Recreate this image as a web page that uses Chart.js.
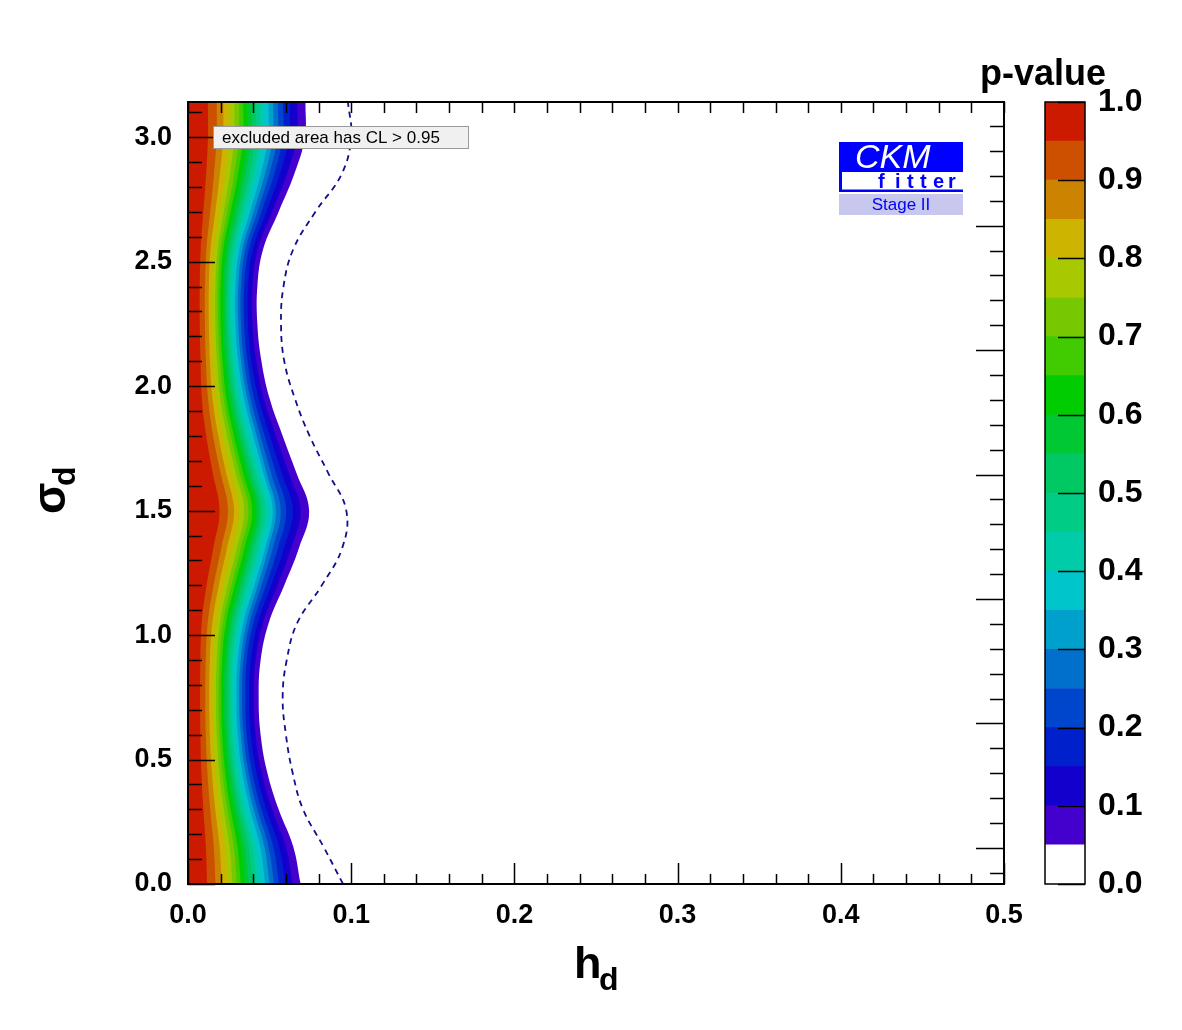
<!DOCTYPE html>
<html>
<head>
<meta charset="utf-8">
<script src="https://cdn.jsdelivr.net/npm/chart.js@4.4.1/dist/chart.umd.min.js"></script>
<style>
  body { margin: 0; background: #fff; }
  #wrap { position: relative; width: 1182px; height: 1030px; }
  #main { position: absolute; left: 0; top: 0; }
  #cbar { position: absolute; left: 960px; top: 0; }
</style>
</head>
<body>
<div id="wrap">
  <canvas id="main" width="1182" height="1030"></canvas>
  <canvas id="cbar" width="222" height="1030"></canvas>
</div>
<script>
const sigmaRows = [0, 0.15, 0.3, 0.45, 0.6, 0.75, 0.9, 1.05, 1.2, 1.35, 1.5, 1.65, 1.8, 1.95, 2.1, 2.25, 2.4, 2.55, 2.7, 2.85, 3.0, 3.1416];

// h_d position of each p-value contour at those rows
const hP05 = [0.0690, 0.0645, 0.0555, 0.0485, 0.0445, 0.0433, 0.0445, 0.0495, 0.0590, 0.0680, 0.0742, 0.0665, 0.0580, 0.0500, 0.0450, 0.0425, 0.0425, 0.0460, 0.0555, 0.0650, 0.0716, 0.0720];
const hP10 = [0.0642, 0.0600, 0.0516, 0.0451, 0.0414, 0.0403, 0.0414, 0.0460, 0.0549, 0.0632, 0.0690, 0.0618, 0.0539, 0.0465, 0.0419, 0.0395, 0.0395, 0.0428, 0.0516, 0.0605, 0.0666, 0.0670];
const hP15 = [0.0597, 0.0558, 0.0480, 0.0420, 0.0385, 0.0375, 0.0385, 0.0428, 0.0510, 0.0588, 0.0642, 0.0575, 0.0502, 0.0433, 0.0389, 0.0368, 0.0368, 0.0398, 0.0480, 0.0562, 0.0619, 0.0623];
const hP20 = [0.0559, 0.0522, 0.0450, 0.0393, 0.0360, 0.0351, 0.0360, 0.0401, 0.0478, 0.0551, 0.0601, 0.0539, 0.0470, 0.0405, 0.0365, 0.0344, 0.0344, 0.0373, 0.0450, 0.0527, 0.0580, 0.0583];
const hP25 = [0.0528, 0.0493, 0.0425, 0.0371, 0.0340, 0.0331, 0.0340, 0.0379, 0.0451, 0.0520, 0.0568, 0.0509, 0.0444, 0.0383, 0.0344, 0.0325, 0.0325, 0.0352, 0.0425, 0.0497, 0.0548, 0.0551];
const hP30 = [0.0500, 0.0468, 0.0402, 0.0352, 0.0323, 0.0314, 0.0323, 0.0359, 0.0428, 0.0493, 0.0538, 0.0482, 0.0421, 0.0363, 0.0326, 0.0308, 0.0308, 0.0334, 0.0402, 0.0471, 0.0519, 0.0522];
const hP35 = [0.0473, 0.0442, 0.0380, 0.0332, 0.0305, 0.0297, 0.0305, 0.0339, 0.0407, 0.0473, 0.0519, 0.0462, 0.0400, 0.0343, 0.0308, 0.0291, 0.0291, 0.0315, 0.0380, 0.0445, 0.0490, 0.0493];
const hP40 = [0.0445, 0.0416, 0.0358, 0.0313, 0.0287, 0.0279, 0.0287, 0.0319, 0.0384, 0.0449, 0.0497, 0.0440, 0.0378, 0.0323, 0.0290, 0.0274, 0.0274, 0.0297, 0.0358, 0.0419, 0.0462, 0.0464];
const hP45 = [0.0421, 0.0393, 0.0339, 0.0296, 0.0271, 0.0264, 0.0271, 0.0302, 0.0364, 0.0428, 0.0475, 0.0419, 0.0358, 0.0305, 0.0275, 0.0259, 0.0259, 0.0281, 0.0339, 0.0397, 0.0437, 0.0439];
const hP50 = [0.0397, 0.0371, 0.0319, 0.0279, 0.0256, 0.0249, 0.0256, 0.0285, 0.0345, 0.0407, 0.0453, 0.0398, 0.0339, 0.0288, 0.0259, 0.0244, 0.0244, 0.0265, 0.0319, 0.0374, 0.0412, 0.0414];
const hP55 = [0.0373, 0.0348, 0.0300, 0.0262, 0.0240, 0.0234, 0.0240, 0.0267, 0.0325, 0.0387, 0.0434, 0.0378, 0.0320, 0.0270, 0.0243, 0.0230, 0.0230, 0.0248, 0.0300, 0.0351, 0.0387, 0.0389];
const hP60 = [0.0348, 0.0326, 0.0280, 0.0245, 0.0225, 0.0219, 0.0225, 0.0250, 0.0306, 0.0368, 0.0416, 0.0360, 0.0301, 0.0253, 0.0227, 0.0215, 0.0215, 0.0232, 0.0280, 0.0328, 0.0362, 0.0364];
const hP65 = [0.0324, 0.0303, 0.0261, 0.0228, 0.0209, 0.0204, 0.0209, 0.0233, 0.0286, 0.0346, 0.0393, 0.0338, 0.0281, 0.0235, 0.0212, 0.0200, 0.0200, 0.0216, 0.0261, 0.0306, 0.0337, 0.0338];
const hP70 = [0.0300, 0.0281, 0.0241, 0.0211, 0.0194, 0.0188, 0.0194, 0.0215, 0.0266, 0.0324, 0.0371, 0.0317, 0.0262, 0.0218, 0.0196, 0.0185, 0.0185, 0.0200, 0.0241, 0.0283, 0.0311, 0.0313];
const hP75 = [0.0273, 0.0255, 0.0219, 0.0192, 0.0176, 0.0171, 0.0176, 0.0196, 0.0243, 0.0300, 0.0345, 0.0293, 0.0239, 0.0198, 0.0178, 0.0168, 0.0168, 0.0182, 0.0219, 0.0257, 0.0283, 0.0284];
const hP80 = [0.0242, 0.0226, 0.0194, 0.0170, 0.0156, 0.0152, 0.0156, 0.0173, 0.0218, 0.0271, 0.0315, 0.0265, 0.0214, 0.0175, 0.0158, 0.0149, 0.0149, 0.0161, 0.0194, 0.0228, 0.0251, 0.0252];
const hP85 = [0.0207, 0.0194, 0.0167, 0.0146, 0.0134, 0.0130, 0.0134, 0.0149, 0.0189, 0.0239, 0.0282, 0.0234, 0.0186, 0.0150, 0.0135, 0.0128, 0.0128, 0.0138, 0.0167, 0.0195, 0.0215, 0.0216];
const hP90 = [0.0169, 0.0158, 0.0136, 0.0119, 0.0109, 0.0106, 0.0109, 0.0121, 0.0157, 0.0204, 0.0245, 0.0200, 0.0154, 0.0123, 0.0110, 0.0104, 0.0104, 0.0113, 0.0136, 0.0159, 0.0175, 0.0176];
const hP95 = [0.0117, 0.0110, 0.0094, 0.0082, 0.0076, 0.0074, 0.0076, 0.0084, 0.0114, 0.0155, 0.0193, 0.0152, 0.0112, 0.0085, 0.0077, 0.0072, 0.0072, 0.0078, 0.0094, 0.0111, 0.0122, 0.0122];

// dashed contour
const hDashed = [0.095, 0.083, 0.0705, 0.064, 0.060, 0.058, 0.0605, 0.067, 0.082, 0.0945, 0.097, 0.086, 0.0745, 0.0655, 0.059, 0.057, 0.0585, 0.0645, 0.078, 0.094, 0.100, 0.098];

const pLevels = [0.05, 0.10, 0.15, 0.20, 0.25, 0.30, 0.35, 0.40, 0.45, 0.50, 0.55, 0.60, 0.65, 0.70, 0.75, 0.80, 0.85, 0.90, 0.95];
const levelColors = ['#4400cc', '#1400cc', '#0020cc', '#0046cc', '#0070cc', '#00a0cc', '#00c6cc', '#00ccaa', '#00cc86', '#00c862', '#00c832', '#00cc00', '#40cc00', '#77c800', '#a8c800', '#ccb400', '#cc8400', '#cc5000', '#cc1a00'];

const xTicks = [0, 0.1, 0.2, 0.3, 0.4, 0.5];
const yTicks = [0, 0.5, 1.0, 1.5, 2.0, 2.5, 3.0];
const cbarTicks = [0, 0.1, 0.2, 0.3, 0.4, 0.5, 0.6, 0.7, 0.8, 0.9, 1.0];

const contourH = [hP05, hP10, hP15, hP20, hP25, hP30, hP35, hP40, hP45, hP50,
  hP55, hP60, hP65, hP70, hP75, hP80, hP85, hP90, hP95];

Chart.defaults.font.family = "'Liberation Sans', Arial, sans-serif";
Chart.defaults.color = '#000';
Chart.defaults.animation = false;

const bold = (size) => ({ family: "'Liberation Sans', Arial, sans-serif", size, weight: 'bold' });

// dashed line first, then filled regions from the highest level down
// (the filler paints the last dataset first)
const mainDatasets = [{
  data: sigmaRows.map((s, i) => ({ x: hDashed[i], y: s })),
  borderColor: '#10108c',
  borderWidth: 1.8,
  borderDash: [6, 5],
  fill: false,
  pointRadius: 0,
  tension: 0.4
}];
for (let k = pLevels.length - 1; k >= 0; k--) {
  mainDatasets.push({
    label: 'p > ' + pLevels[k].toFixed(2),
    data: sigmaRows.map((s, i) => ({ x: contourH[k][i], y: s })),
    backgroundColor: levelColors[k],
    borderWidth: 0,
    fill: 'origin',
    pointRadius: 0,
    tension: 0.4
  });
}

// ROOT style frame: ticks drawn inwards on all four sides, plus labels
const frameDecor = {
  id: 'frameDecor',
  afterDraw(chart) {
    const { ctx, chartArea: a, scales: { x, y } } = chart;
    ctx.save();
    ctx.strokeStyle = '#000';
    ctx.lineWidth = 1.5;
    ctx.beginPath();
    for (let i = 0; i <= 25; i++) {
      const px = Math.round(x.getPixelForValue(i * 0.02)) + 0.5;
      ctx.moveTo(px, a.bottom);
      ctx.lineTo(px, a.bottom - (i % 5 === 0 ? 21 : 10));
      ctx.moveTo(px, a.top);
      ctx.lineTo(px, a.top + 11);
    }
    for (let i = 0; i <= 31; i++) {
      const py = Math.round(y.getPixelForValue(i * 0.1)) + 0.5;
      ctx.moveTo(a.left, py);
      ctx.lineTo(a.left + (i % 5 === 0 ? 27 : 14), py);
    }
    // the right axis is shifted against the left one
    for (let i = 0; i <= 30; i++) {
      const py = Math.round(y.getPixelForValue(0.045 + i * 0.1)) + 0.5;
      ctx.moveTo(a.right, py);
      ctx.lineTo(a.right - (i % 5 === 1 ? 28 : 14), py);
    }
    ctx.stroke();
    ctx.lineWidth = 2;
    ctx.strokeRect(a.left, a.top, a.right - a.left, a.bottom - a.top);

    // axis titles
    ctx.fillStyle = '#000';
    ctx.textBaseline = 'alphabetic';
    ctx.textAlign = 'left';
    ctx.font = "bold 45px 'Liberation Sans', Arial, sans-serif";
    ctx.fillText('h', 574, 978);
    ctx.font = "bold 32px 'Liberation Sans', Arial, sans-serif";
    ctx.fillText('d', 599, 990);

    ctx.save();
    ctx.translate(65, 514);
    ctx.rotate(-Math.PI / 2);
    ctx.font = "bold 46px 'Liberation Sans', Arial, sans-serif";
    ctx.fillText('\u03c3', 0, 0);
    ctx.font = "bold 32px 'Liberation Sans', Arial, sans-serif";
    ctx.fillText('d', 28, 10);
    ctx.restore();

    // legend box
    ctx.fillStyle = '#f0f0f0';
    ctx.fillRect(213, 126, 255, 22);
    ctx.strokeStyle = '#9a9a9a';
    ctx.lineWidth = 1;
    ctx.strokeRect(213.5, 126.5, 255, 22);
    ctx.fillStyle = '#000';
    ctx.font = "17px 'Liberation Sans', Arial, sans-serif";
    ctx.fillText('excluded area has CL > 0.95', 222, 143);

    // CKMfitter logo
    ctx.fillStyle = '#0000ff';
    ctx.fillRect(839, 142, 124, 50);
    ctx.fillStyle = '#fff';
    ctx.fillRect(842, 172, 121, 17.5);
    ctx.font = "italic 34px 'Liberation Sans', Arial, sans-serif";
    ctx.fillText('CKM', 855, 168);
    ctx.fillStyle = '#0000ff';
    ctx.font = "bold 20px 'Liberation Sans', Arial, sans-serif";
    const fx = [878, 895, 907, 920, 933, 948];
    'fitter'.split('').forEach((c, i) => ctx.fillText(c, fx[i], 188));
    ctx.fillStyle = '#c8c8ee';
    ctx.fillRect(839, 194, 124, 21);
    ctx.fillStyle = '#0000ff';
    ctx.textAlign = 'center';
    ctx.font = "17px 'Liberation Sans', Arial, sans-serif";
    ctx.fillText('Stage II', 901, 210);
    ctx.restore();
  }
};

new Chart(document.getElementById('main'), {
  type: 'line',
  data: { datasets: mainDatasets },
  options: {
    responsive: false,
    indexAxis: 'y',
    layout: { padding: { left: 0, top: 102, right: 178, bottom: 0 } },
    plugins: { legend: { display: false }, tooltip: { enabled: false } },
    scales: {
      x: {
        type: 'linear',
        position: 'bottom',
        min: 0,
        max: 0.5,
        grid: { display: false, drawTicks: false },
        border: { display: false },
        ticks: { font: bold(27), padding: 15, maxRotation: 0, autoSkip: false, callback: (v) => v.toFixed(1) },
        afterBuildTicks: (s) => { s.ticks = xTicks.map((v) => ({ value: v })); },
        afterFit: (s) => { s.height = 146; }
      },
      y: {
        type: 'linear',
        position: 'left',
        min: 0,
        max: Math.PI,
        grid: { display: false, drawTicks: false },
        border: { display: false },
        ticks: { font: bold(27), padding: 16, autoSkip: false, callback: (v) => v.toFixed(1) },
        afterBuildTicks: (s) => { s.ticks = yTicks.map((v) => ({ value: v })); },
        afterFit: (s) => { s.width = 188; }
      }
    }
  },
  plugins: [frameDecor]
});

// colour scale on the right
const cbarDatasets = [{ data: [[0, pLevels[0]]], backgroundColor: '#fff' }];
pLevels.forEach((lv, i) => {
  const top = i < pLevels.length - 1 ? pLevels[i + 1] : 1.0;
  cbarDatasets.push({ data: [[lv, top]], backgroundColor: levelColors[i] });
});

const cbarDecor = {
  id: 'cbarDecor',
  afterDraw(chart) {
    const { ctx, chartArea: a, scales: { y } } = chart;
    ctx.save();
    ctx.strokeStyle = '#000';
    ctx.lineWidth = 1.5;
    ctx.strokeRect(a.left, a.top, a.right - a.left, a.bottom - a.top);
    ctx.beginPath();
    cbarTicks.forEach((v) => {
      const py = Math.round(y.getPixelForValue(v)) + 0.5;
      ctx.moveTo(a.right, py);
      ctx.lineTo(a.right - 27, py);
    });
    ctx.stroke();
    ctx.fillStyle = '#000';
    ctx.textAlign = 'center';
    ctx.font = "bold 36px 'Liberation Sans', Arial, sans-serif";
    ctx.fillText('p-value', 83, 85);
    ctx.restore();
  }
};

new Chart(document.getElementById('cbar'), {
  type: 'bar',
  data: { labels: [''], datasets: cbarDatasets },
  options: {
    responsive: false,
    layout: { padding: { left: 85, top: 102, right: 0, bottom: 146 } },
    datasets: { bar: { grouped: false, barPercentage: 1, categoryPercentage: 1, borderWidth: 0 } },
    plugins: { legend: { display: false }, tooltip: { enabled: false } },
    scales: {
      x: { display: false },
      y: {
        type: 'linear',
        position: 'right',
        min: 0,
        max: 1,
        grid: { display: false, drawTicks: false },
        border: { display: false },
        ticks: { font: bold(32), padding: 13, callback: (v) => v.toFixed(1) },
        afterBuildTicks: (s) => { s.ticks = cbarTicks.map((v) => ({ value: v })); },
        afterFit: (s) => { s.width = 97; }
      }
    }
  },
  plugins: [cbarDecor]
});
</script>
</body>
</html>
